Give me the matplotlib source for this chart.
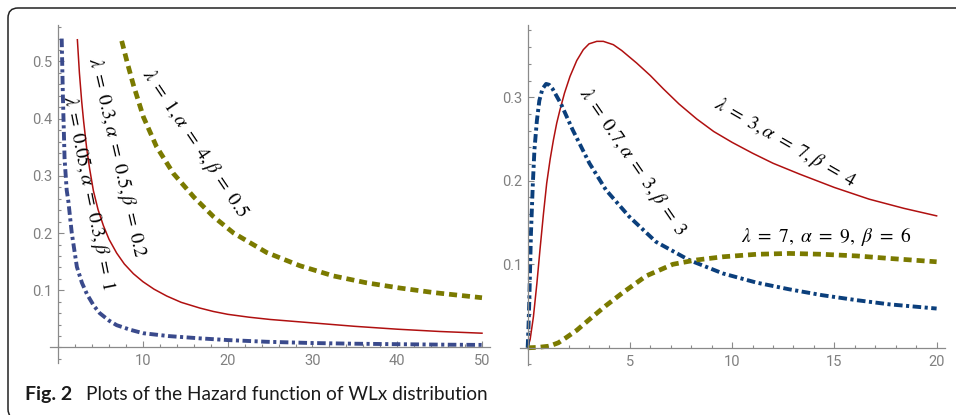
import matplotlib
matplotlib.use("Agg")
import matplotlib.pyplot as plt
from matplotlib.patches import FancyBboxPatch
from matplotlib.transforms import IdentityTransform
from matplotlib.ticker import MultipleLocator, FixedLocator

plt.rcParams['mathtext.fontset'] = 'stix'

# ---- left panel: values ----
left_blue_x = [0.41, 0.55, 0.75, 1.0, 1.2, 1.6, 2.2, 2.8, 3.4, 4.2, 4.9, 6.0, 6.9, 8.5, 10.0, 13.0, 16.7, 20.0, 24.6, 30.0, 35.0, 40.0, 45.0, 50.0]
left_blue_y = [0.54, 0.44, 0.33, 0.275, 0.255, 0.20, 0.141, 0.113, 0.093, 0.073, 0.060, 0.047, 0.039, 0.031, 0.025, 0.020, 0.016, 0.013, 0.010, 0.0078, 0.0066, 0.0058, 0.0050, 0.0045]

left_red_x = [2.26, 2.5, 2.77, 3.0, 3.36, 3.7, 4.15, 4.7, 5.33, 6.0, 6.9, 7.8, 8.87, 10.0, 11.3, 12.8, 14.5, 16.7, 18.3, 20.0, 22.5, 25.0, 30.0, 35.0, 40.0, 45.0, 50.0]
left_red_y = [0.538, 0.48, 0.43, 0.395, 0.348, 0.313, 0.274, 0.241, 0.213, 0.189, 0.165, 0.146, 0.129, 0.115, 0.102, 0.090, 0.079, 0.069, 0.063, 0.058, 0.053, 0.049, 0.043, 0.037, 0.032, 0.028, 0.025]

left_olive_x = [7.49, 8.2, 8.87, 10.05, 11.6, 13.6, 16.0, 18.3, 20.7, 24.6, 28.5, 32.5, 36.4, 40.3, 44.3, 50.0]
left_olive_y = [0.536, 0.495, 0.459, 0.403, 0.351, 0.304, 0.263, 0.229, 0.200, 0.166, 0.143, 0.125, 0.113, 0.104, 0.096, 0.087]

# ---- right panel ----
right_red_x = [0.0, 0.12, 0.28, 0.45, 0.60, 0.77, 0.93, 1.1, 1.26, 1.42, 1.58, 1.8, 2.07, 2.4, 2.72, 3.0, 3.38, 3.7, 4.19, 4.6, 5.33, 6.0, 6.64, 7.4, 8.27, 9.1, 10.0, 11.0, 12.0, 13.3, 15.0, 16.7, 18.4, 20.0]
right_red_y = [0.0, 0.010, 0.037, 0.077, 0.117, 0.160, 0.197, 0.226, 0.249, 0.269, 0.285, 0.305, 0.325, 0.344, 0.357, 0.364, 0.367, 0.367, 0.363, 0.356, 0.341, 0.326, 0.310, 0.292, 0.274, 0.259, 0.246, 0.233, 0.221, 0.208, 0.192, 0.178, 0.167, 0.158]

right_blue_x = [0.0, 0.04, 0.08, 0.16, 0.25, 0.33, 0.45, 0.57, 0.72, 0.90, 1.05, 1.22, 1.63, 2.2, 3.02, 3.83, 4.97, 6.27, 7.9, 9.55, 11.2, 12.8, 14.4, 16.1, 17.7, 20.0]
right_blue_y = [0.0, 0.025, 0.057, 0.137, 0.195, 0.237, 0.272, 0.296, 0.310, 0.316, 0.315, 0.310, 0.292, 0.261, 0.221, 0.189, 0.157, 0.127, 0.105, 0.089, 0.078, 0.070, 0.063, 0.057, 0.052, 0.047]

right_olive_x = [0.0, 0.5, 1.06, 1.5, 1.87, 2.4, 3.02, 3.8, 4.65, 5.79, 7.1, 8.2, 9.55, 11.2, 12.8, 14.4, 16.1, 17.7, 20.0]
right_olive_y = [0.0, 0.0005, 0.002, 0.006, 0.012, 0.021, 0.034, 0.050, 0.066, 0.086, 0.100, 0.105, 0.109, 0.112, 0.113, 0.112, 0.110, 0.107, 0.103]

left_xticks = [10, 20, 30, 40, 50]
left_yticks = [0.1, 0.2, 0.3, 0.4, 0.5]
right_xticks = [5, 10, 15, 20]
right_yticks = [0.1, 0.2, 0.3]

left_labels = [r'$\lambda\ =\ 0.05,\alpha\ =\ 0.3,\beta\ =\ 1$',
               r'$\lambda\ =\ 0.3,\alpha\ =\ 0.5,\beta\ =\ 0.2$',
               r'$\lambda\ =\ 1,\alpha\ =\ 4,\beta\ =\ 0.5$']
right_labels = [r'$\lambda\ =\ 0.7,\alpha\ =\ 3,\beta\ =\ 3$',
                r'$\lambda\ =\ 3,\alpha\ =\ 7,\beta\ =\ 4$',
                r'$\lambda\ =\ 7,\ \alpha\ =\ 9,\ \beta\ =\ 6$']

RED = '#b01010'
OLIVE = '#7a7a00'
AXC = '#8a8a8a'
TXC = '#808080'

dashdot = (0, (2.2, 0.9, 0.8, 0.9))
dashed = (0, (1.7, 1.05))


def style_axes(ax, xlim, ylim, xmajor, xminor, ymajor, yminor):
    ax.set_xlim(*xlim)
    ax.set_ylim(*ylim)
    for s in ['top', 'right']:
        ax.spines[s].set_visible(False)
    for s in ['left', 'bottom']:
        ax.spines[s].set_position(('data', 0))
        ax.spines[s].set_color(AXC)
        ax.spines[s].set_linewidth(0.9)
    ax.xaxis.set_major_locator(FixedLocator(xmajor))
    ax.yaxis.set_major_locator(FixedLocator(ymajor))
    ax.xaxis.set_minor_locator(MultipleLocator(xminor))
    ax.yaxis.set_minor_locator(MultipleLocator(yminor))
    ax.set_xticklabels([f'{v:g}' for v in xmajor])
    ax.set_yticklabels([f'{v:g}' for v in ymajor])
    ax.tick_params(which='both', direction='in', color=AXC, width=0.8,
                   labelcolor=TXC, labelsize=10.5)
    ax.tick_params(which='major', length=4.5)
    ax.tick_params(which='minor', length=2.5)
    ax.tick_params(axis='x', pad=5)
    ax.tick_params(axis='y', pad=4)
    for lab in ax.get_xticklabels() + ax.get_yticklabels():
        lab.set_fontfamily('Roboto')
    ax.patch.set_visible(False)


fig = plt.figure(figsize=(9.56, 4.15), dpi=100)

# left panel
ax1 = fig.add_axes([0.0523, 0.1253, 0.4603, 0.8145])
ax1.plot(left_blue_x, left_blue_y, color='#3a4a8c', lw=2.8, linestyle=dashdot)
ax1.plot(left_red_x, left_red_y, color=RED, lw=1.1)
ax1.plot(left_olive_x, left_olive_y, color=OLIVE, lw=3.4, linestyle=dashed)
style_axes(ax1, (-0.97, 50.95), (-0.0271, 0.5638), left_xticks, 2, left_yticks, 0.02)

lab_kw = dict(ha='center', va='center', rotation_mode='anchor', fontsize=14, color='black')
ax1.text(3.63, 0.270, left_labels[0], rotation=-78.5, **lab_kw)
ax1.text(6.95, 0.333, left_labels[1], rotation=-77, **lab_kw)
ax1.text(16.1, 0.357, left_labels[2], rotation=-56, **lab_kw)

# right panel
ax2 = fig.add_axes([0.5439, 0.1205, 0.4446, 0.8193])
ax2.plot(right_red_x, right_red_y, color=RED, lw=1.1)
ax2.plot(right_blue_x, right_blue_y, color='#0b3f7c', lw=2.8, linestyle=dashdot)
ax2.plot(right_olive_x, right_olive_y, color=OLIVE, lw=3.4, linestyle=dashed)
style_axes(ax2, (-0.377, 20.41), (-0.0206, 0.3866), right_xticks, 1, right_yticks, 0.02)

ax2.text(5.15, 0.2225, right_labels[0], rotation=-55.5, **lab_kw)
ax2.text(12.58, 0.245, right_labels[1], rotation=-30, **lab_kw)
ax2.text(14.6, 0.1327, right_labels[2], rotation=0, **lab_kw)

# caption
cap_y = 15 / 415
fig.text(25 / 956, cap_y, 'Fig. 2', fontsize=14, fontweight='bold',
         family='Lato', color='#1a1a1a', va='baseline')
fig.text(86 / 956, cap_y, 'Plots of the Hazard function of WLx distribution',
         fontsize=13.7, family='Lato', color='#1a1a1a', va='baseline')

# rounded frame
frame = FancyBboxPatch((8, -4), 980, 411, boxstyle='round,pad=0,rounding_size=10',
                       transform=IdentityTransform(), fill=False, ec='#222222', lw=1.1)
fig.add_artist(frame)

fig.savefig('out.png', dpi=100)
